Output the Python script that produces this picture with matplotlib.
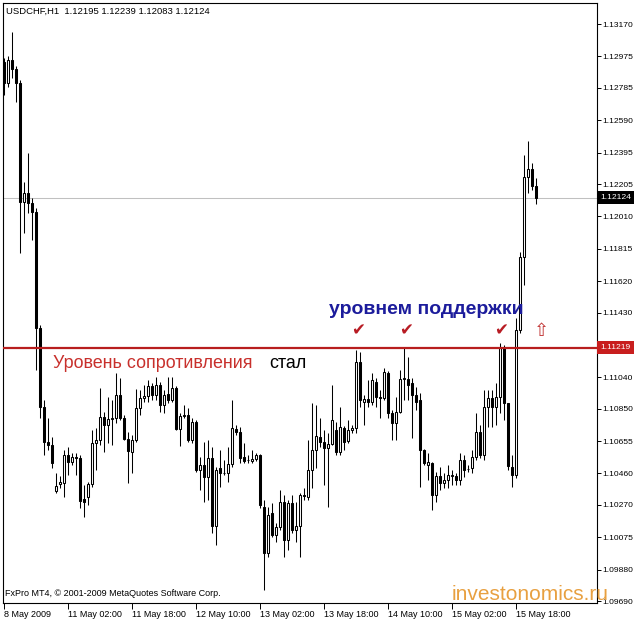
import numpy as np
import matplotlib
matplotlib.use('Agg')
import matplotlib.pyplot as plt
from matplotlib.patches import Rectangle

plt.rcParams['font.family'] = ['Liberation Sans', 'DejaVu Sans']

# USDCHF H1, 8 May 2009 10:00 .. 15 May 2009 23:00 (one bar per hour)
opens = [
    1.12941, 1.12815, 1.12953, 1.12899, 1.12815, 1.12097, 1.12151, 1.12091, 1.12037, 1.11337,
    1.10861, 1.10650, 1.10632, 1.10354, 1.10397, 1.10403, 1.10571, 1.10529, 1.10559, 1.10553,
    1.10306, 1.10318, 1.10397, 1.10644, 1.10662, 1.10800, 1.10752, 1.10788, 1.10794, 1.10933,
    1.10794, 1.10668, 1.10589, 1.10662, 1.10855, 1.10915, 1.10927, 1.10988, 1.10933, 1.10994,
    1.10873, 1.10939, 1.10903, 1.10975, 1.10728, 1.10806, 1.10813, 1.10662, 1.10770, 1.10481,
    1.10511, 1.10439, 1.10553, 1.10143, 1.10493, 1.10463, 1.10463, 1.10517, 1.10728, 1.10710,
    1.10559, 1.10541, 1.10535, 1.10547, 1.10571, 1.10258, 1.09980, 1.10222, 1.10089, 1.10137,
    1.10288, 1.10059, 1.10282, 1.10119, 1.10143, 1.10330, 1.10318, 1.10481, 1.10602, 1.10680,
    1.10650, 1.10614, 1.10638, 1.10722, 1.10589, 1.10734, 1.10656, 1.10722, 1.10734, 1.11132,
    1.10891, 1.10909, 1.10891, 1.11012, 1.10921, 1.10915, 1.11066, 1.10825, 1.10764, 1.10831,
    1.11030, 1.11030, 1.11006, 1.10933, 1.10903, 1.10602, 1.10511, 1.10523, 1.10330, 1.10445,
    1.10403, 1.10421, 1.10445, 1.10445, 1.10421, 1.10541, 1.10487, 1.10493, 1.10559, 1.10710,
    1.10571, 1.10861, 1.10915, 1.10861, 1.10921, 1.11217, 1.10885, 1.10499, 1.10451, 1.11325,
    1.11765, 1.12248, 1.12296, 1.12195,
]
highs = [
    1.12965, 1.12977, 1.13122, 1.12917, 1.12833, 1.12218, 1.12392, 1.12121, 1.12061, 1.11355,
    1.10903, 1.10794, 1.10680, 1.10463, 1.10445, 1.10602, 1.10620, 1.10583, 1.10583, 1.10571,
    1.10390, 1.10409, 1.10722, 1.10734, 1.10975, 1.10831, 1.10921, 1.10903, 1.11066, 1.11036,
    1.10813, 1.10710, 1.10692, 1.10969, 1.10963, 1.10994, 1.11024, 1.11006, 1.11042, 1.11012,
    1.10963, 1.11042, 1.11042, 1.10988, 1.10825, 1.10873, 1.10855, 1.10794, 1.10782, 1.10559,
    1.10650, 1.10662, 1.10620, 1.10499, 1.10602, 1.10541, 1.10620, 1.10903, 1.10752, 1.10740,
    1.10644, 1.10571, 1.10602, 1.10583, 1.10577, 1.10300, 1.10258, 1.10282, 1.10161, 1.10360,
    1.10330, 1.10300, 1.10330, 1.10288, 1.10342, 1.10372, 1.10662, 1.10885, 1.10873, 1.10794,
    1.10722, 1.10704, 1.10994, 1.10770, 1.10861, 1.10746, 1.10782, 1.10752, 1.11205, 1.11192,
    1.10933, 1.11024, 1.11066, 1.11036, 1.10963, 1.11096, 1.11078, 1.10843, 1.10921, 1.11084,
    1.11217, 1.11162, 1.11036, 1.10982, 1.10945, 1.10608, 1.10583, 1.10529, 1.10469, 1.10499,
    1.10463, 1.10511, 1.10481, 1.10463, 1.10583, 1.10571, 1.10511, 1.10602, 1.10825, 1.10752,
    1.10963, 1.10963, 1.10963, 1.11006, 1.11247, 1.11235, 1.10885, 1.10571, 1.11397, 1.11795,
    1.12380, 1.12465, 1.12332, 1.12239,
]
lows = [
    1.12742, 1.12790, 1.12845, 1.12700, 1.11789, 1.11910, 1.12031, 1.11868, 1.11084, 1.10794,
    1.10571, 1.10602, 1.10493, 1.10342, 1.10372, 1.10318, 1.10451, 1.10511, 1.10451, 1.10252,
    1.10198, 1.10270, 1.10378, 1.10481, 1.10632, 1.10589, 1.10644, 1.10632, 1.10764, 1.10782,
    1.10662, 1.10403, 1.10463, 1.10650, 1.10813, 1.10891, 1.10891, 1.10903, 1.10903, 1.10831,
    1.10825, 1.10885, 1.10891, 1.10722, 1.10626, 1.10794, 1.10650, 1.10644, 1.10469, 1.10360,
    1.10288, 1.10300, 1.10101, 1.10029, 1.10378, 1.10451, 1.10409, 1.10499, 1.10692, 1.10523,
    1.10523, 1.10523, 1.10523, 1.10535, 1.10252, 1.09757, 1.09956, 1.10077, 1.10047, 1.10119,
    1.09956, 1.09999, 1.10101, 1.10047, 1.09956, 1.10300, 1.10300, 1.10372, 1.10493, 1.10620,
    1.10390, 1.10258, 1.10632, 1.10571, 1.10571, 1.10602, 1.10644, 1.10704, 1.10704, 1.10861,
    1.10752, 1.10861, 1.10873, 1.10861, 1.10794, 1.10903, 1.10794, 1.10662, 1.10662, 1.10825,
    1.10903, 1.10903, 1.10674, 1.10843, 1.10378, 1.10511, 1.10421, 1.10240, 1.10288, 1.10360,
    1.10372, 1.10372, 1.10390, 1.10390, 1.10390, 1.10439, 1.10469, 1.10463, 1.10541, 1.10553,
    1.10541, 1.10740, 1.10740, 1.10752, 1.10825, 1.10782, 1.10481, 1.10378, 1.10433, 1.11310,
    1.11596, 1.12151, 1.12169, 1.12083,
]
closes = [
    1.12815, 1.12953, 1.12899, 1.12815, 1.12097, 1.12151, 1.12091, 1.12037, 1.11337, 1.10861,
    1.10650, 1.10632, 1.10523, 1.10384, 1.10409, 1.10571, 1.10529, 1.10559, 1.10553, 1.10294,
    1.10288, 1.10397, 1.10644, 1.10662, 1.10800, 1.10752, 1.10788, 1.10794, 1.10933, 1.10794,
    1.10668, 1.10595, 1.10662, 1.10855, 1.10915, 1.10927, 1.10988, 1.10933, 1.10994, 1.10873,
    1.10933, 1.10903, 1.10975, 1.10728, 1.10806, 1.10813, 1.10662, 1.10770, 1.10481, 1.10511,
    1.10439, 1.10553, 1.10143, 1.10481, 1.10463, 1.10460, 1.10517, 1.10734, 1.10710, 1.10553,
    1.10535, 1.10541, 1.10547, 1.10571, 1.10270, 1.09980, 1.10210, 1.10089, 1.10137, 1.10288,
    1.10059, 1.10282, 1.10119, 1.10143, 1.10330, 1.10324, 1.10481, 1.10602, 1.10686, 1.10650,
    1.10614, 1.10638, 1.10782, 1.10589, 1.10740, 1.10650, 1.10722, 1.10734, 1.11132, 1.10903,
    1.10909, 1.10891, 1.11024, 1.10921, 1.10915, 1.11072, 1.10825, 1.10764, 1.10831, 1.11030,
    1.11036, 1.10994, 1.10933, 1.10891, 1.10602, 1.10523, 1.10529, 1.10330, 1.10445, 1.10403,
    1.10421, 1.10451, 1.10448, 1.10421, 1.10541, 1.10481, 1.10490, 1.10559, 1.10710, 1.10571,
    1.10861, 1.10915, 1.10861, 1.10921, 1.11217, 1.10885, 1.10505, 1.10451, 1.11325, 1.11765,
    1.12248, 1.12296, 1.12195, 1.12124,
]

date_labels = ['8 May 2009', '11 May 02:00', '11 May 18:00', '12 May 10:00', '13 May 02:00',
               '13 May 18:00', '14 May 10:00', '15 May 02:00', '15 May 18:00']
date_bars = [0, 16, 32, 48, 64, 80, 96, 112, 128]

price_ticks = [1.13170, 1.12975, 1.12785, 1.12590, 1.12395, 1.12205, 1.12010, 1.11815, 1.11620,
               1.11430, 1.11040, 1.10850, 1.10655, 1.10460, 1.10270, 1.10075, 1.09880, 1.09690]

level = 1.11219          # resistance that became support
check_bars = [88.5, 100.5, 124.3]

o = np.array(opens)
h = np.array(highs)
l = np.array(lows)
c = np.array(closes)
x = np.arange(len(c))
last = c[-1]

fig = plt.figure(figsize=(6.34, 6.2), dpi=100)
ax = fig.add_axes([3/634, 17/620, 594/634, 600/620])
ax.set_xlim(-0.3, 148.2)
ax.set_ylim(1.09679, 1.13297)

# close price line
ax.axhline(last, color='#c0c0c0', lw=0.75, zorder=1)

# candles
up = c >= o
ax.vlines(x, l, h, color='black', lw=0.75, zorder=2)
ax.bar(x, np.abs(c - o), bottom=np.minimum(o, c), width=0.55,
       color=np.where(up, 'white', 'black'), edgecolor='black', lw=0.75, zorder=3)

# level line
ax.axhline(level, color='#b81e1e', lw=1.6, zorder=4)

# axes styling
for s in ax.spines.values():
    s.set_linewidth(0.8)
    s.set_color('black')
ax.yaxis.tick_right()
ax.set_yticks(price_ticks)
ax.set_yticklabels(['%.5f' % p for p in price_ticks])
ax.tick_params(axis='y', length=3, width=0.7, labelsize=6.1, pad=1)
ax.set_xticks(date_bars)
ax.set_xticklabels(date_labels)
for t in ax.get_xticklabels():
    t.set_horizontalalignment('left')
ax.tick_params(axis='x', length=4, width=0.7, labelsize=6.5, pad=1)

# price tags on the right axis
ytr = ax.get_yaxis_transform()
for price, col in [(last, 'black'), (level, '#c81e1e')]:
    ax.add_patch(Rectangle((1.0, price - 0.00037), 37/594, 0.00074, transform=ytr,
                           facecolor=col, edgecolor='none', clip_on=False, zorder=5))
    ax.text(1.0 + 3/594, price, '%.5f' % price, transform=ytr, color='white',
            fontsize=6.1, va='center', ha='left', clip_on=False, zorder=6)

# annotations
ax.text(12.25, 1.11126, 'Уровень сопротивления', color='#c8302c', fontsize=12.9, va='center')
ax.text(66.3, 1.11126, 'стал', color='black', fontsize=12.9, va='center')
ax.text(81.2, 1.11446, 'уровнем поддержки', color='#1c1c9c', fontsize=14, va='center',
        fontweight='bold')
for b in check_bars:
    ax.text(b, 1.11319, '\u2714', color='#b81c24', fontsize=12, ha='center', va='center')
ax.text(134.3, 1.11319, '\u21e7', color='#c03030', fontsize=13, ha='center', va='center')

fig.text(6/634, 1 - 11/620, 'USDCHF,H1  1.12195 1.12239 1.12083 1.12124', fontsize=6.8,
         va='center', ha='left')
fig.text(5/634, 1 - 594/620, 'FxPro MT4, \u00a9 2001-2009 MetaQuotes Software Corp.',
         fontsize=6.5, va='center', ha='left')
fig.text(452/634, 1 - 594/620, 'investonomics.ru', color='#e8a040', fontsize=15,
         va='center', ha='left')

fig.savefig('out.png', dpi=100)
